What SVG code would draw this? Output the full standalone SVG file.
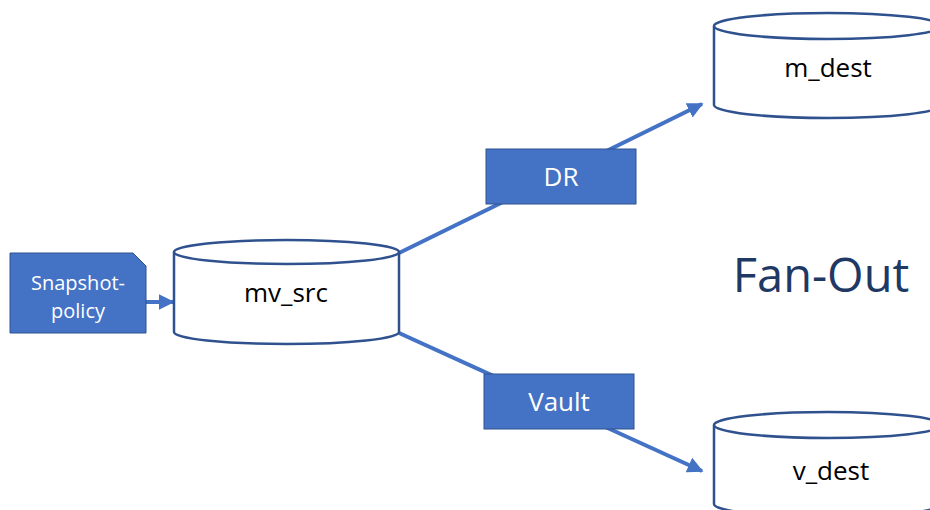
<svg xmlns="http://www.w3.org/2000/svg" width="930" height="510" viewBox="0 0 930 510">
<style>
.cyl{fill:#fff;stroke:#2F528F;stroke-width:2.5}
.box{fill:#4472C4;stroke:#2F528F;stroke-width:1}
.wt{fill:#fff;font-family:'Open Sans','Noto Sans',sans-serif;text-anchor:middle}
.bt{fill:#000;font-family:'Open Sans','Noto Sans',sans-serif;font-size:26px;text-anchor:middle}
.ln{stroke:#4472C4;stroke-width:4;fill:none}
</style>
<defs>
<marker id="ah" viewBox="0 0 10 10" refX="9" refY="5" markerWidth="4" markerHeight="4" markerUnits="strokeWidth" orient="auto">
<path d="M0,0 L10,5 L0,10 Z" fill="#4472C4"/>
</marker>
</defs>
<g id="connectors">
<line class="ln" x1="146" y1="302" x2="173" y2="302" stroke-width="3" marker-end="url(#ah)"/>
<line class="ln" x1="399" y1="253" x2="702" y2="104" marker-end="url(#ah)"/>
<line class="ln" x1="399" y1="333" x2="702" y2="471" marker-end="url(#ah)"/>
</g>
<g id="snapshot-policy">
<path class="box" d="M10,253 H133 L146,266 V333 H10 Z"/>
<text class="wt" x="78" y="290" font-size="20">Snapshot-</text>
<text class="wt" x="78" y="318" font-size="20">policy</text>
</g>
<g id="mv_src">
<path class="cyl" d="M174,252 V332 A112.5,12 0 0 0 399,332 V252"/>
<ellipse class="cyl" cx="286.5" cy="252" rx="112.5" ry="12"/>
<text class="bt" x="286" y="302">mv_src</text>
</g>
<g id="dr">
<rect class="box" x="486" y="149" width="150" height="55"/>
<text class="wt" x="561" y="186" font-size="26">DR</text>
</g>
<g id="vault">
<rect class="box" x="484" y="374" width="150" height="55"/>
<text class="wt" x="559" y="411" font-size="26">Vault</text>
</g>
<g id="m_dest">
<path class="cyl" d="M714,26 V105 A114,13 0 0 0 942,105 V26"/>
<ellipse class="cyl" cx="828" cy="26" rx="114" ry="13"/>
<text class="bt" x="828" y="77">m_dest</text>
</g>
<g id="v_dest">
<path class="cyl" d="M714,425 V504 A114,13 0 0 0 942,504 V425"/>
<ellipse class="cyl" cx="828" cy="425" rx="114" ry="13"/>
<text class="bt" x="831" y="480">v_dest</text>
</g>
<text x="821" y="292" font-family="'Open Sans','Noto Sans',sans-serif" font-size="47" fill="#203864" text-anchor="middle">Fan-Out</text>
</svg>
